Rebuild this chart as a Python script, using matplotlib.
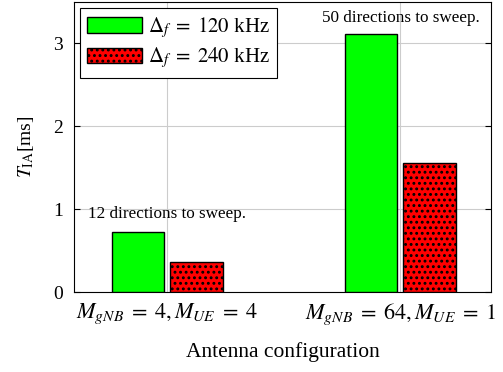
import numpy as np
import matplotlib
matplotlib.use("Agg")
import matplotlib.pyplot as plt

# chart data
configs = [r"$M_{gNB}\;=\;4, M_{UE}\;=\;4$", r"$M_{gNB}\;=\;64, M_{UE}\;=\;1$"]
t_120khz = [0.73, 3.11]
t_240khz = [0.365, 1.555]
series_labels = [r"$\Delta_f\;=\;120$ kHz", r"$\Delta_f\;=\;240$ kHz"]
notes = ["12 directions to sweep.", "50 directions to sweep."]

plt.rcParams["font.family"] = ["Liberation Serif", "DejaVu Serif"]
plt.rcParams["mathtext.fontset"] = "stix"
plt.rcParams["hatch.linewidth"] = 1.3

fig = plt.figure(figsize=(5.03, 3.72), dpi=100)
ax = fig.add_axes([0.147, 0.215, 0.829, 0.78])

x = np.arange(len(configs))
w = 0.227
ax.bar(x - 0.125, t_120khz, w, color="#00ff00", edgecolor="black", linewidth=1.0,
       label=series_labels[0], zorder=3)
ax.bar(x + 0.125, t_240khz, w, color="#ff0000", edgecolor="black", linewidth=1.0,
       hatch="...", label=series_labels[1], zorder=3)

ax.set_xlim(-0.4, 1.39)
ax.set_ylim(0, 3.5)
ax.set_xticks(x)
ax.set_xticklabels(configs, fontsize=16)
ax.set_yticks([0, 1, 2, 3])
ax.tick_params(axis="y", labelsize=14, direction="in", right=True, length=4, pad=8)
ax.tick_params(axis="x", direction="in", length=0, pad=7)
ax.grid(True, color="#cccccc", linewidth=0.8, zorder=0)
ax.set_axisbelow(True)

ax.set_ylabel(r"$T_{\mathrm{IA}}$[ms]", fontsize=14, labelpad=12)
ax.set_xlabel("Antenna configuration", fontsize=15.5, labelpad=11)

ax.text(-0.34, 0.94, notes[0], fontsize=12.3, ha="left", va="center")
ax.text(1.34, 3.30, notes[1], fontsize=12.3, ha="right", va="center")

leg = ax.legend(loc="upper left", fontsize=15, fancybox=False, edgecolor="black",
                framealpha=1, borderaxespad=0.3, handlelength=2.6, handleheight=0.8,
                handletextpad=0.3, borderpad=0.35, labelspacing=0.25)
leg.get_frame().set_linewidth(0.8)

fig.savefig("out.png", dpi=100)
